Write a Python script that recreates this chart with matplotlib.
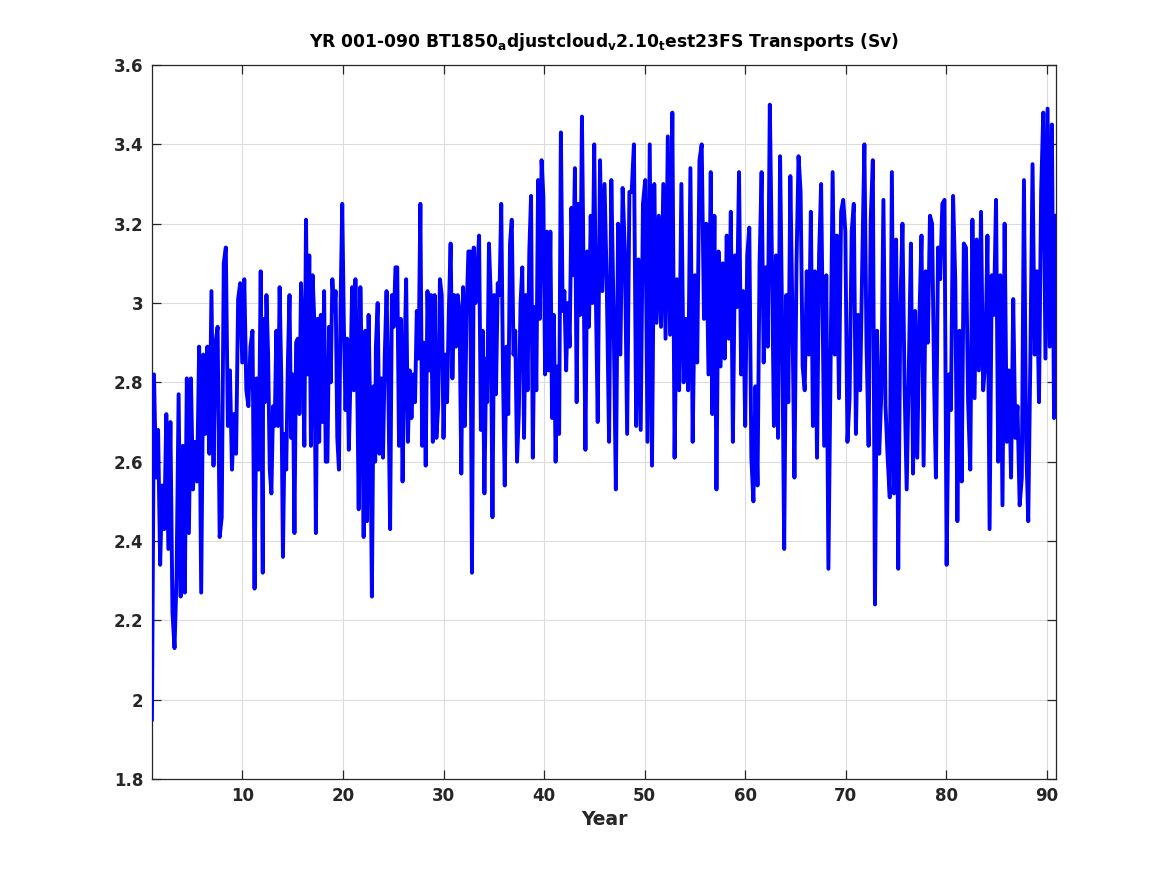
import numpy as np
import matplotlib
matplotlib.use("Agg")
import matplotlib.pyplot as plt

# Monthly transport values (Sv) in 8 consecutive year spans
seg1 = [1.95, 2.82, 2.56, 2.68, 2.34, 2.54, 2.43, 2.72, 2.38, 2.70, 2.22, 2.13, 2.31, 2.77, 2.26,
        2.64, 2.27, 2.81, 2.42, 2.81, 2.53, 2.65, 2.55, 2.89, 2.27, 2.87, 2.67, 2.89, 2.62, 3.03,
        2.59, 2.90, 2.94, 2.41, 2.46, 3.10, 3.14, 2.69, 2.83, 2.58, 2.72, 2.62, 3.01, 3.05, 2.85,
        3.06, 2.78, 2.74, 2.89, 2.93, 2.28, 2.81, 2.58, 3.08, 2.32]
seg2 = [2.96, 2.75, 3.02, 2.87, 2.58, 2.52, 2.74, 2.69, 2.93, 2.69, 3.04, 2.81, 2.36, 2.67, 2.58,
        2.85, 3.02, 2.66, 2.82, 2.42, 2.90, 2.91, 2.72, 3.05, 2.89, 2.64, 3.21, 2.82, 3.12, 2.64,
        3.07, 2.96, 2.42, 2.96, 2.65, 2.97, 2.70, 3.03, 2.60, 2.60, 2.94, 2.80, 3.06, 2.98, 3.03,
        2.66, 2.58, 3.00, 3.25, 2.94, 2.73, 2.91, 2.63, 2.81, 3.04, 2.78, 3.06, 2.83, 2.48, 3.04,
        2.79, 2.41, 2.93, 2.45, 2.97, 2.71, 2.26, 2.79, 2.60]
seg3 = [2.89, 3.00, 2.62, 2.81, 2.61, 2.87, 3.03, 2.79, 2.43, 3.02, 2.94, 3.09, 3.09, 2.64, 2.96,
        2.55, 2.84, 3.06, 2.65, 2.83, 2.71, 2.82, 2.75, 2.98, 2.86, 3.25, 2.64, 2.90, 2.59, 3.03,
        2.83, 3.02, 2.65, 3.02, 2.66, 2.74, 3.06, 3.02, 2.66, 2.87, 2.75, 2.98, 3.15, 2.81, 3.02,
        2.89, 3.02, 2.98, 2.57, 3.04, 2.69, 2.98, 3.13, 3.13, 2.32, 3.14, 3.00, 3.08, 3.17, 2.68,
        2.93, 2.52, 2.86]
seg4 = [2.75, 3.15, 3.02, 2.46, 3.02, 2.77, 3.05, 3.02, 3.25, 2.82, 2.54, 2.89, 2.72, 3.15, 3.21,
        2.87, 2.93, 2.60, 2.72, 3.00, 3.09, 2.66, 3.02, 2.78, 3.13, 3.27, 2.61, 2.99, 2.78, 3.31,
        2.96, 3.36, 3.27, 2.82, 3.18, 2.83, 3.18, 2.71, 2.97, 2.60, 2.84, 2.67, 3.43, 2.98, 3.03,
        2.83, 3.00, 2.89, 3.24, 3.07, 3.34, 2.75, 3.25, 2.97, 3.47, 3.04, 2.63, 3.13, 2.94, 3.22,
        3.00, 3.40, 3.00, 2.70]
seg5 = [3.36, 3.03, 3.30, 3.04, 2.65, 3.31, 2.97, 2.53, 3.20, 2.87, 3.29, 3.13, 2.67, 3.28, 3.28,
        3.40, 2.69, 3.11, 2.68, 3.25, 3.31, 2.65, 3.40, 2.59, 3.30, 2.95, 3.22, 2.94, 3.30, 2.91,
        3.42, 2.92, 3.48, 2.61, 3.06, 2.78, 3.30, 2.80, 2.96, 2.78, 3.34, 2.65, 3.07, 2.85, 3.36,
        3.40, 2.96, 3.20, 2.82, 3.33]
seg6 = [2.72, 3.22, 2.53, 3.13, 2.84, 3.10, 2.86, 3.17, 2.91, 3.23, 2.65, 3.12, 2.99, 3.33, 2.82,
        3.03, 2.69, 3.12, 3.19, 2.61, 2.50, 2.79, 2.54, 3.10, 3.33, 2.85, 3.09, 2.89, 3.50, 3.12,
        2.69, 3.12, 2.66, 3.37, 2.95, 2.38, 3.02, 2.75, 3.32, 2.97, 2.56, 3.10, 3.37, 3.28, 2.84,
        2.78, 3.08, 2.87, 3.23, 2.69, 3.08, 2.61, 3.12, 3.30, 2.86]
seg7 = [2.64, 3.07, 2.33, 2.83, 3.33, 2.87, 3.17, 2.76, 3.23, 3.26, 3.18, 2.65, 2.76, 3.18, 3.25,
        2.67, 2.97, 2.78, 3.10, 3.40, 2.90, 2.64, 3.21, 3.36, 2.24, 2.93, 2.62, 2.77, 3.26, 2.74,
        2.61, 2.51, 3.33, 2.52, 3.16, 2.33, 2.99, 3.20, 2.79, 2.53, 2.83, 3.15, 2.57, 2.98, 2.61,
        2.96, 3.17, 2.59, 3.08, 2.90, 3.22, 3.20, 2.79]
seg8 = [2.56, 3.14, 3.06, 3.25, 3.26, 2.34, 2.82, 2.73, 3.27, 3.06, 2.45, 2.93, 2.55, 3.15, 3.14,
        2.75, 2.58, 3.21, 2.76, 3.16, 2.83, 3.23, 2.78, 2.85, 3.17, 2.43, 3.07, 2.97, 3.26, 2.60,
        3.07, 2.49, 3.20, 2.65, 2.83, 2.56, 3.01, 2.66, 2.74, 2.49, 2.56, 3.31, 2.65, 2.45, 2.87,
        3.35, 2.87, 3.08, 2.75, 3.28, 3.48, 2.86, 3.49, 2.89, 3.45, 2.71, 3.22]

segments = [seg1, seg2, seg3, seg4, seg5, seg6, seg7, seg8]
# year span (first, last) covered by each segment
seg_years = [(1.0, 12.02), (12.06, 23.2), (23.27, 34.24), (34.34, 45.33),
             (45.56, 56.57), (56.73, 67.75), (67.85, 78.79), (78.96, 90.92)]

years = np.concatenate([np.linspace(a, b, len(s)) for s, (a, b) in zip(segments, seg_years)])
values = np.concatenate([np.array(s) for s in segments])

xticks = [10, 20, 30, 40, 50, 60, 70, 80, 90]
yticks = [1.8, 2.0, 2.2, 2.4, 2.6, 2.8, 3.0, 3.2, 3.4, 3.6]
ytick_labels = ["1.8", "2", "2.2", "2.4", "2.6", "2.8", "3", "3.2", "3.4", "3.6"]

plt.rcParams['font.family'] = ['DejaVu Sans']
plt.rcParams['font.weight'] = 'bold'
plt.rcParams['mathtext.default'] = 'bf'

fig = plt.figure(figsize=(11.67, 8.75), dpi=100)
ax = fig.add_axes([0.1302, 0.1097, 0.7748, 0.8160])

ax.plot(years, values, color=(0, 0, 1), lw=2.8, solid_joinstyle='round', zorder=3)

ax.set_xlim(1, 1 + 1079 / 12)
ax.set_ylim(1.8, 3.6)
ax.set_xticks(xticks)
ax.set_yticks(yticks)
ax.set_yticklabels(ytick_labels)

dark = '#262626'
ax.grid(True, color='#dcdcdc', lw=0.8, zorder=0)
ax.set_axisbelow(True)
for sp in ax.spines.values():
    sp.set_color(dark)
    sp.set_linewidth(0.9)
ax.tick_params(direction='in', length=6.5, width=0.9, colors=dark, labelsize=12,
               top=True, right=True, pad=6)
for lab in ax.get_xticklabels() + ax.get_yticklabels():
    lab.set_fontweight('bold')

ax.set_xlabel('Year', fontsize=13.5, fontweight='bold', color=dark, labelpad=3)
ax.set_title('YR 001-090 BT1850$_{a}$djustcloud$_{v}$2.10$_{t}$est23FS Transports (Sv)',
             fontsize=12.3, fontweight='bold', color='black', pad=13)

fig.savefig('out.png', dpi=100)
